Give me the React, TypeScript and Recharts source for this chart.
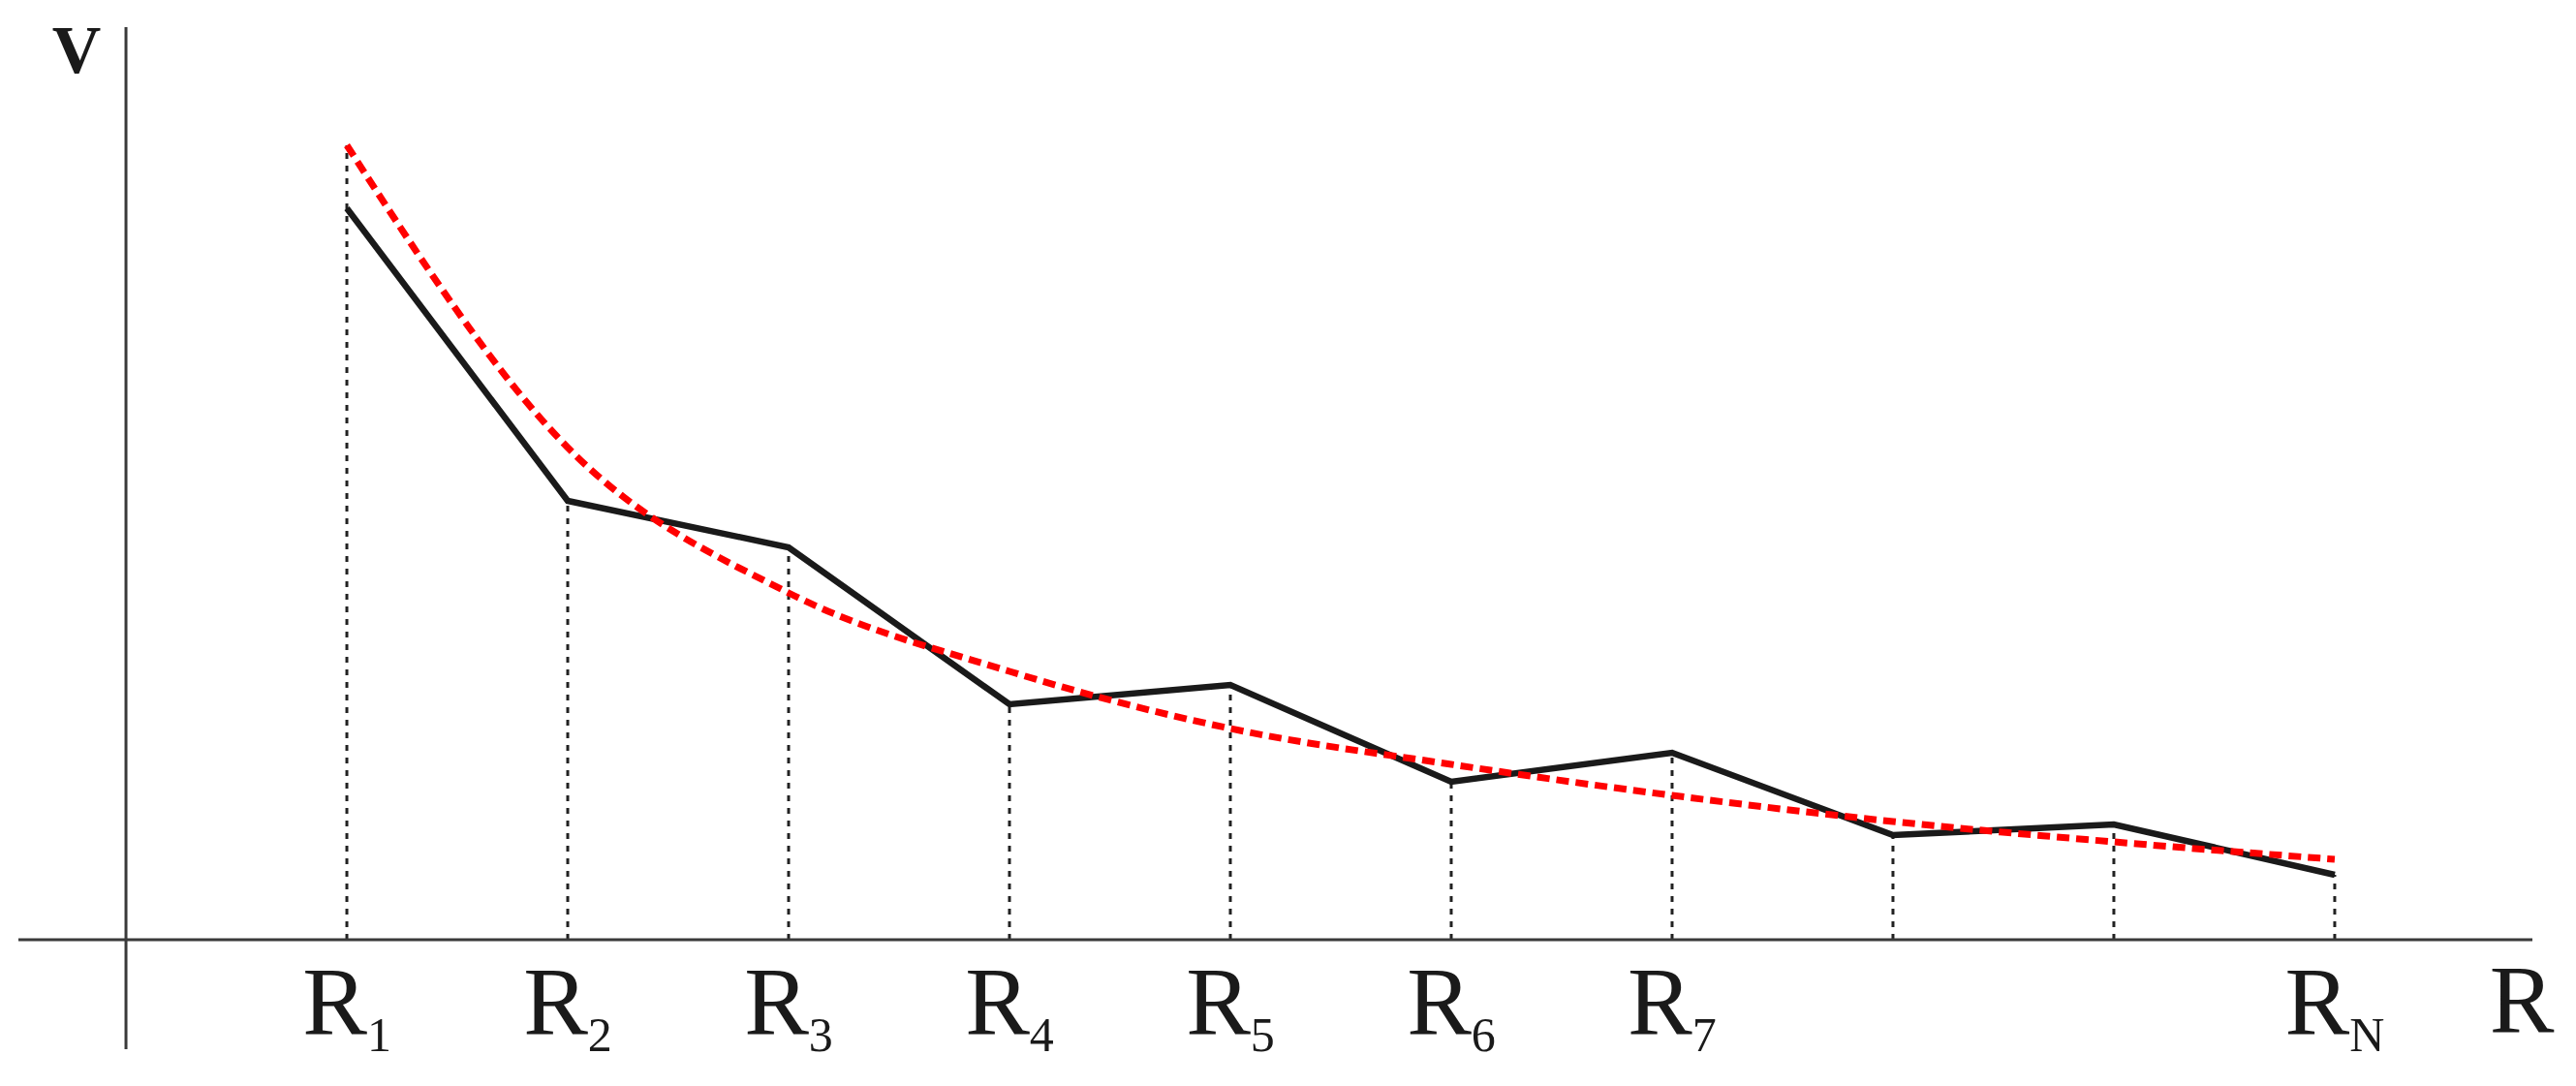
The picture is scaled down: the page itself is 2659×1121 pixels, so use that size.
import { LineChart, Line, XAxis, YAxis, ReferenceLine } from 'recharts'

// positions R1..RN along the R axis
const rValues = [1, 2, 3, 4, 5, 6, 7, 8, 9, 10]
const rSubs = ['1', '2', '3', '4', '5', '6', '7', '', '', 'N']

// measured V (black polyline) and fitted curve (red dashed)
const measured = [75.5, 45.3, 40.5, 24.3, 26.3, 16.3, 19.3, 10.8, 11.9, 6.7]
const fitted = [82, 50.8, 35.8, 27.7, 21.8, 18.1, 14.9, 12.2, 10.1, 8.3]

const data = rValues.map((r, i) => ({ r, measured: measured[i], fitted: fitted[i] }))
// dotted guides drop from the measured point (first one reaches the fit curve start)
const guides = rValues.map((r, i) => ({ r, top: i === 0 ? Math.max(measured[i], fitted[i]) : measured[i] }))

const serif = 'Liberation Serif, Times New Roman, Times, serif'
const ink = '#1a1a1a'
const axisInk = '#3a3a3a'

function RTick({ x, y, payload }: any) {
  const i = rValues.indexOf(payload.value)
  const sub = rSubs[i]
  if (!sub) return null
  return (
    <text x={x} y={y + 97} textAnchor="middle" style={{ fontFamily: serif }} fontSize={100} fill={ink}>
      R<tspan fontSize={50} dy={18}>{sub}</tspan>
    </text>
  )
}

export default function App() {
  return (
    <LineChart width={2643} height={1105} data={data} margin={{ top: 20, right: 37, left: 11, bottom: 43 }}>
      <XAxis
        dataKey="r" type="number" domain={[-0.487, 10.895]} ticks={rValues} interval={0}
        height={100} tickSize={0} tickMargin={0} tickLine={false}
        axisLine={{ stroke: axisInk, strokeWidth: 3 }}
        tick={<RTick />}
        label={{
          content: ({ viewBox }: any) => (
            <text x={viewBox.x + viewBox.width - 11} y={viewBox.y + 95} textAnchor="middle"
              style={{ fontFamily: serif }} fontSize={100} fill={ink}>R</text>
          ),
        }}
      />
      <YAxis hide type="number" domain={[0, 94.2]} allowDataOverflow />
      <ReferenceLine
        segment={[{ x: 0, y: -11.3 }, { x: 0, y: 94.2 }]} ifOverflow="visible"
        stroke={axisInk} strokeWidth={3}
        label={{
          content: ({ viewBox }: any) => (
            <text x={viewBox.x - 51} y={viewBox.y + 47} textAnchor="middle"
              style={{ fontFamily: serif }} fontWeight="bold" fontSize={70} fill={ink}>V</text>
          ),
        }}
      />
      {guides.map((g) => (
        <ReferenceLine key={g.r} segment={[{ x: g.r, y: 0 }, { x: g.r, y: g.top }]}
          stroke="#222" strokeWidth={3} strokeDasharray="6 7" />
      ))}
      <Line dataKey="measured" type="linear" stroke={ink} strokeWidth={6.5} dot={false} isAnimationActive={false} />
      <Line dataKey="fitted" type="monotone" stroke="#ff0000" strokeWidth={7} strokeDasharray="13 7"
        dot={false} isAnimationActive={false} />
    </LineChart>
  )
}
